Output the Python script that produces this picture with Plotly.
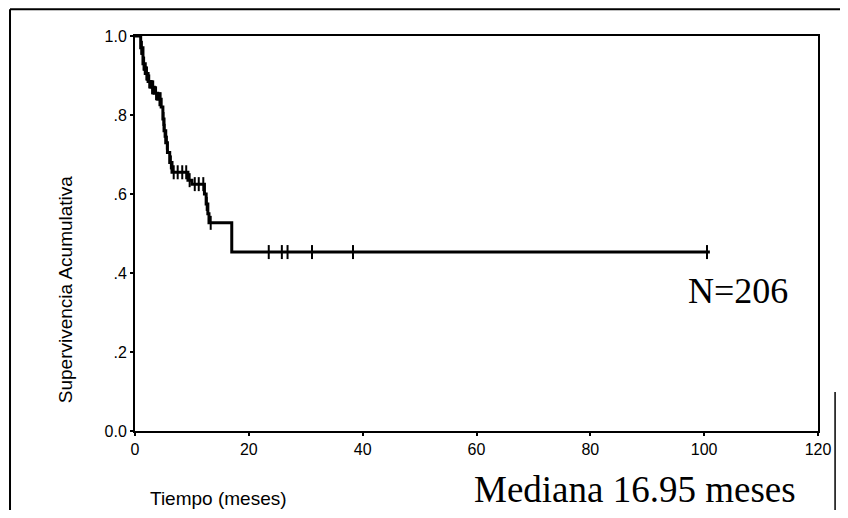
import numpy as np
import plotly.graph_objects as go

# Kaplan-Meier step curve (months, cumulative survival)
event_times = [0, 1.0, 1.4, 1.8, 2.3, 2.8, 3.4, 4.0, 4.6, 4.9, 5.1, 5.4, 5.7, 6.1, 6.5,
               9.3, 10.0, 12.2, 12.5, 12.8, 13.0, 17.0, 101.0]
event_surv = [1.0, 0.97, 0.93, 0.905, 0.885, 0.87, 0.855, 0.84, 0.82, 0.79, 0.76, 0.73, 0.705,
              0.68, 0.655, 0.635, 0.625, 0.60, 0.575, 0.55, 0.527, 0.453, 0.453]

# censored observations (tick marks on the curve)
censor_times = [1.1, 1.2, 1.5, 1.6, 2.0, 2.1, 2.5, 3.0, 3.2, 3.7, 4.3, 4.5, 5.0, 5.2, 5.6,
                6.3, 6.8, 7.5, 8.3, 9.0, 9.6, 10.5, 11.2, 12.0, 12.6, 13.3,
                23.5, 25.8, 26.8, 31.1, 38.3, 100.5]

x_ticks = [0, 20, 40, 60, 80, 100, 120]
y_ticks = [0, 0.2, 0.4, 0.6, 0.8, 1.0]
y_ticklabels = ["0.0", ".2", ".4", ".6", ".8", "1.0"]

idx = np.searchsorted(event_times, censor_times, side="right") - 1
censor_surv = [event_surv[i] for i in idx]

fig = go.Figure()
fig.add_trace(go.Scatter(
    x=event_times, y=event_surv, mode="lines", line_shape="hv",
    line=dict(color="black", width=3), hoverinfo="skip"
))
fig.add_trace(go.Scatter(
    x=censor_times, y=censor_surv, mode="markers",
    marker=dict(symbol="line-ns", size=10, line=dict(color="black", width=2)),
    hoverinfo="skip"
))

sans = "Liberation Sans, Arial, sans-serif"
serif = "Liberation Serif, Times New Roman, serif"

# page has an 8px body margin: keep the figure small enough that nothing scrolls
fig.update_layout(
    width=840, height=502,
    margin=dict(l=127, r=30, t=28, b=79),
    paper_bgcolor="white", plot_bgcolor="white",
    showlegend=False,
    font=dict(family=sans, color="black", size=16),
    xaxis=dict(
        range=[0, 120], tickvals=x_ticks, showgrid=False, zeroline=False,
        showline=True, linecolor="black", linewidth=2, mirror=True,
        ticks="outside", ticklen=3, tickwidth=2, tickcolor="black",
        tickfont=dict(size=16)
    ),
    yaxis=dict(
        range=[0, 1], tickvals=y_ticks, ticktext=y_ticklabels, showgrid=False, zeroline=False,
        showline=True, linecolor="black", linewidth=2, mirror=True,
        ticks="outside", ticklen=3, tickwidth=2, tickcolor="black",
        tickfont=dict(size=16)
    ),
    annotations=[
        dict(text="Supervivencia Acumulativa", xref="paper", yref="paper", x=-0.1025, y=0.359,
             textangle=-90, showarrow=False, font=dict(size=19), xanchor="center", yanchor="middle"),
        dict(text="Tiempo (meses)", xref="paper", yref="paper", x=0.019, y=-0.172,
             showarrow=False, font=dict(size=19), xanchor="left", yanchor="middle"),
        dict(text="Mediana 16.95 meses", xref="paper", yref="paper", x=0.97, y=-0.147,
             showarrow=False, font=dict(family=serif, size=37), xanchor="right", yanchor="middle"),
        dict(text="N=206", xref="paper", yref="paper", x=0.959, y=0.354,
             showarrow=False, font=dict(family=serif, size=36), xanchor="right", yanchor="middle"),
    ],
    shapes=[
        # page frame from the scanned figure
        dict(type="line", xref="paper", yref="paper", x0=-0.183, x1=1.05, y0=1.068, y1=1.068,
             line=dict(color="black", width=2)),
        dict(type="line", xref="paper", yref="paper", x0=-0.183, x1=-0.183, y0=1.068, y1=-0.22,
             line=dict(color="black", width=2)),
        dict(type="line", xref="paper", yref="paper", x0=1.025, x1=1.025, y0=0.0987, y1=-0.22,
             line=dict(color="black", width=1.5)),
    ],
)

fig.write_html("out.html")
